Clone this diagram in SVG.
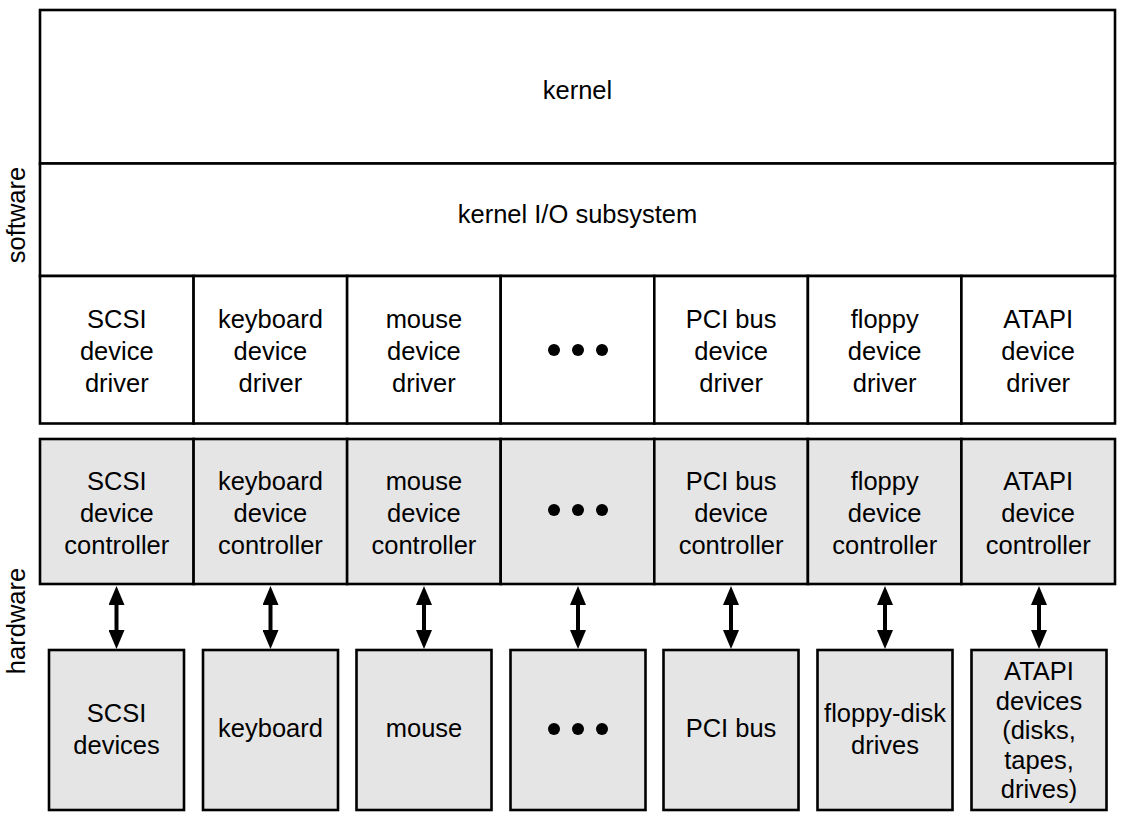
<svg xmlns="http://www.w3.org/2000/svg" width="1126" height="825" viewBox="0 0 1126 825">
<style>
text{font-family:"Liberation Sans",Arial,Helvetica,sans-serif;font-size:25.5px;fill:#000;text-anchor:middle}
.sw{fill:#fff;stroke:#000;stroke-width:2.6}
.hw{fill:#e5e5e5;stroke:#000;stroke-width:2.6}
.conn line{stroke:#000;stroke-width:4}
</style>
<defs>
<marker id="ah" viewBox="0 0 19 16" refX="0" refY="8" markerWidth="19" markerHeight="16" markerUnits="userSpaceOnUse" orient="auto-start-reverse">
<path d="M0,0 L19,8 L0,16 z" fill="#000"/>
</marker>
</defs>
<rect width="1126" height="825" fill="#fff"/>
<text transform="translate(25,215) rotate(-90)">software</text>
<text transform="translate(25,621) rotate(-90)">hardware</text>

<g id="kernel"><rect class="sw" x="40" y="10" width="1075" height="153.5"/><text x="577.5" y="99">kernel</text></g>
<g id="kernel-io"><rect class="sw" x="40" y="163.5" width="1075" height="112.5"/><text x="577.5" y="223">kernel I/O subsystem</text></g>

<g id="drv-scsi"><rect class="sw" x="40" y="276" width="153.6" height="147.5"/><text x="116.8" y="328">SCSI</text><text x="116.8" y="360">device</text><text x="116.8" y="392">driver</text></g>
<g id="drv-keyboard"><rect class="sw" x="193.6" y="276" width="153.6" height="147.5"/><text x="270.4" y="328">keyboard</text><text x="270.4" y="360">device</text><text x="270.4" y="392">driver</text></g>
<g id="drv-mouse"><rect class="sw" x="347.1" y="276" width="153.6" height="147.5"/><text x="423.9" y="328">mouse</text><text x="423.9" y="360">device</text><text x="423.9" y="392">driver</text></g>
<g id="drv-more"><rect class="sw" x="500.7" y="276" width="153.6" height="147.5"/><circle cx="554" cy="350" r="6"/><circle cx="578" cy="350" r="6"/><circle cx="602" cy="350" r="6"/></g>
<g id="drv-pci"><rect class="sw" x="654.3" y="276" width="153.6" height="147.5"/><text x="731.1" y="328">PCI bus</text><text x="731.1" y="360">device</text><text x="731.1" y="392">driver</text></g>
<g id="drv-floppy"><rect class="sw" x="807.9" y="276" width="153.6" height="147.5"/><text x="884.7" y="328">floppy</text><text x="884.7" y="360">device</text><text x="884.7" y="392">driver</text></g>
<g id="drv-atapi"><rect class="sw" x="961.4" y="276" width="153.6" height="147.5"/><text x="1038.2" y="328">ATAPI</text><text x="1038.2" y="360">device</text><text x="1038.2" y="392">driver</text></g>

<g id="ctl-scsi"><rect class="hw" x="40" y="439" width="153.6" height="145"/><text x="116.8" y="490">SCSI</text><text x="116.8" y="522">device</text><text x="116.8" y="554">controller</text></g>
<g id="ctl-keyboard"><rect class="hw" x="193.6" y="439" width="153.6" height="145"/><text x="270.4" y="490">keyboard</text><text x="270.4" y="522">device</text><text x="270.4" y="554">controller</text></g>
<g id="ctl-mouse"><rect class="hw" x="347.1" y="439" width="153.6" height="145"/><text x="423.9" y="490">mouse</text><text x="423.9" y="522">device</text><text x="423.9" y="554">controller</text></g>
<g id="ctl-more"><rect class="hw" x="500.7" y="439" width="153.6" height="145"/><circle cx="554" cy="510" r="6"/><circle cx="578" cy="510" r="6"/><circle cx="602" cy="510" r="6"/></g>
<g id="ctl-pci"><rect class="hw" x="654.3" y="439" width="153.6" height="145"/><text x="731.1" y="490">PCI bus</text><text x="731.1" y="522">device</text><text x="731.1" y="554">controller</text></g>
<g id="ctl-floppy"><rect class="hw" x="807.9" y="439" width="153.6" height="145"/><text x="884.7" y="490">floppy</text><text x="884.7" y="522">device</text><text x="884.7" y="554">controller</text></g>
<g id="ctl-atapi"><rect class="hw" x="961.4" y="439" width="153.6" height="145"/><text x="1038.2" y="490">ATAPI</text><text x="1038.2" y="522">device</text><text x="1038.2" y="554">controller</text></g>

<g id="dev-scsi"><rect class="hw" x="49" y="650" width="135" height="160"/><text x="116.5" y="721.5">SCSI</text><text x="116.5" y="753.5">devices</text></g>
<g id="dev-keyboard"><rect class="hw" x="203" y="650" width="135" height="160"/><text x="270.5" y="737">keyboard</text></g>
<g id="dev-mouse"><rect class="hw" x="356.5" y="650" width="135" height="160"/><text x="424" y="737">mouse</text></g>
<g id="dev-more"><rect class="hw" x="510.5" y="650" width="135" height="160"/><circle cx="554" cy="729" r="6"/><circle cx="578" cy="729" r="6"/><circle cx="602" cy="729" r="6"/></g>
<g id="dev-pci"><rect class="hw" x="663.5" y="650" width="135" height="160"/><text x="731" y="737">PCI bus</text></g>
<g id="dev-floppy"><rect class="hw" x="817.5" y="650" width="135" height="160"/><text x="885" y="721.5">floppy-disk</text><text x="885" y="753.5">drives</text></g>
<g id="dev-atapi"><rect class="hw" x="971.5" y="650" width="135" height="160"/><text x="1039" y="680">ATAPI</text><text x="1039" y="709.5">devices</text><text x="1039" y="739">(disks,</text><text x="1039" y="768.5">tapes,</text><text x="1039" y="798">drives)</text></g>

<g id="connectors" class="conn">
<line x1="116.5" y1="605" x2="116.5" y2="630" marker-start="url(#ah)" marker-end="url(#ah)"/>
<line x1="270.5" y1="605" x2="270.5" y2="630" marker-start="url(#ah)" marker-end="url(#ah)"/>
<line x1="424" y1="605" x2="424" y2="630" marker-start="url(#ah)" marker-end="url(#ah)"/>
<line x1="578" y1="605" x2="578" y2="630" marker-start="url(#ah)" marker-end="url(#ah)"/>
<line x1="731" y1="605" x2="731" y2="630" marker-start="url(#ah)" marker-end="url(#ah)"/>
<line x1="885" y1="605" x2="885" y2="630" marker-start="url(#ah)" marker-end="url(#ah)"/>
<line x1="1039" y1="605" x2="1039" y2="630" marker-start="url(#ah)" marker-end="url(#ah)"/>
</g>
</svg>
